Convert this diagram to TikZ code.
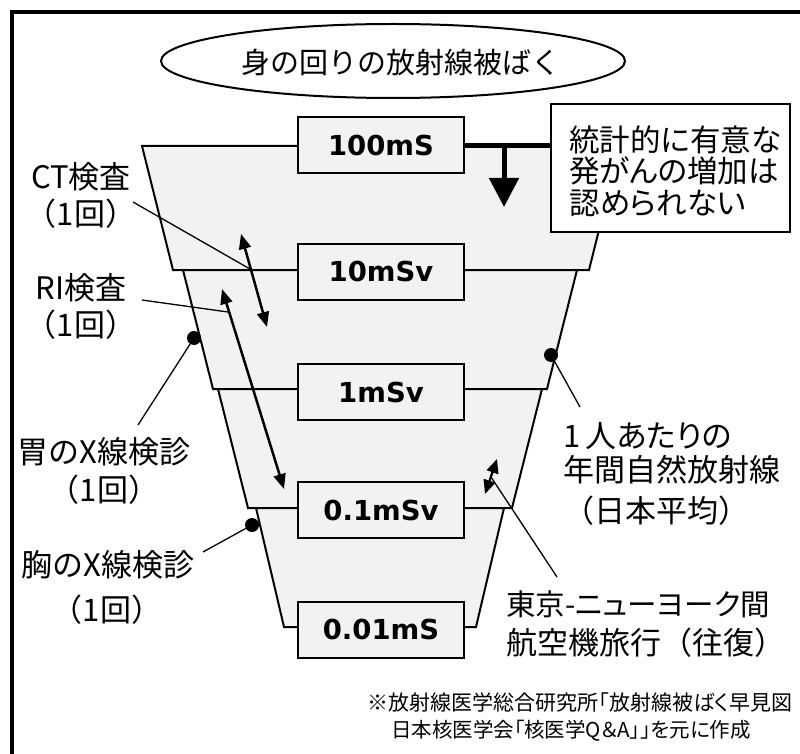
\documentclass[tikz,border=0pt]{standalone}
\usepackage{fontspec}
\setmainfont{Noto Sans CJK JP}
\newfontfamily\jpp[RawFeature=+palt]{Noto Sans CJK JP}
\newfontfamily\boxfont{DejaVu Sans}
\usetikzlibrary{shapes.geometric,arrows.meta}
\definecolor{funnelgray}{HTML}{F2F2F2}
\begin{document}
\begin{tikzpicture}[x=1pt,y=-1pt,
  trap/.style={draw, line width=2pt, fill=funnelgray, line join=miter},
  dose/.style={draw, line width=2pt, fill=funnelgray, minimum width=166pt, minimum height=56pt, inner sep=0pt, font=\boxfont\bfseries\fontsize{27.5}{27.5}\selectfont},
  lbl/.style={inner sep=0pt, font=\fontsize{31}{37}\selectfont, align=center},
  rlbl/.style={inner sep=0pt, anchor=west, font=\fontsize{31}{31}\selectfont},
  conn/.style={line width=1.3pt},
  dot/.style={circle, fill=black, inner sep=0pt, minimum size=14pt},
  dbl/.style={line width=2.5pt, {Triangle[length=15pt,width=12pt]}-{Triangle[length=15pt,width=12pt]}},
  dbls/.style={line width=2.3pt, {Triangle[length=14pt,width=12pt]}-{Triangle[length=14pt,width=12pt]}}
]
\clip (0,0) rectangle (800,754);
\fill[white] (0,0) rectangle (800,754);
% frame
\draw[line width=3.5pt, line join=miter] (12,820) -- (12,12) -- (860,12);
% title
\node[ellipse, draw, line width=2pt, minimum width=464pt, minimum height=74pt, inner sep=0pt] (title) at (393,61) {};
\node[inner sep=0pt, font=\fontsize{29}{29}\selectfont] (titletext) at (401,62) {身の回りの放射線被ばく};
% funnel
\draw[trap] (142,146) -- (620,146) -- (589,270) -- (173,270) -- cycle;
\draw[trap] (183,270) -- (577,270) -- (547,389) -- (213,389) -- cycle;
\draw[trap] (218,389) -- (542,389) -- (512,508) -- (248,508) -- cycle;
\draw[trap] (256,508) -- (504,508) -- (476,627) -- (284,627) -- cycle;
% dose boxes
\node[dose] (b100) at (381,145.5) {100mS};
\node[dose] (b10) at (381,271.5) {10mSv};
\node[dose] (b1) at (381,392) {1mSv};
\node[dose] (b01) at (381,510) {0.1mSv};
\node[dose] (b001) at (381,629.5) {0.01mS};
% text box
\node[draw, line width=1.5pt, fill=white, minimum width=239pt, minimum height=128pt, inner sep=0pt] (tbox) at (670.5,168) {};
\node[anchor=west, inner sep=0pt, align=left, font=\jpp\fontsize{30.5}{31.5}\selectfont] (ttext) at (569,171) {統計的に有意な\\発がんの増加は\\認められない};
\draw[line width=5pt] (b100.east) -- (b100.east -| tbox.west);
\coordinate (dtop) at (504,146);
\coordinate (dtip) at (504,207);
\draw[line width=5pt, -{Triangle[length=29pt,width=29pt]}] (dtop) -- (dtip);
% left labels
\node[lbl] (ct) at (81,195) {CT検査\\（1回）};
\node[lbl] (ri) at (81,306) {RI検査\\（1回）};
\node[lbl, font=\fontsize{31}{38}\selectfont] (stomach) at (104,471) {胃のX線検診\\（1回）};
\node[lbl] (chest) at (108,565) {胸のX線検診};
\node[lbl] (chest1) at (107,610) {（1回）};
% right labels
\node[rlbl, font=\jpp\fontsize{31}{31}\selectfont] (nat1) at (563,436) {1\,人あたりの};
\node[rlbl] (nat2) at (563,470) {年間自然放射線};
\node[rlbl] (nat3) at (563,511) {（日本平均）};
\node[rlbl, font=\jpp\fontsize{29.5}{29.5}\selectfont] (ny1) at (506,604) {東京-ニューヨーク間};
\node[rlbl] (ny2) at (506,643) {航空機旅行（往復）};
% footnote
\node[inner sep=0pt, font=\jpp\fontsize{21}{21}\selectfont] (fn1) at (580,702) {※放射線医学総合研究所「放射線被ばく早見図};
\node[inner sep=0pt, font=\jpp\fontsize{20.5}{20.5}\selectfont] (fn2) at (571,731) {日本核医学会「核医学Q＆A」」を元に作成};
% dots
\node[dot] (dS) at (194,338) {};
\node[dot] (dC) at (252,525) {};
\node[dot] (dN) at (551,355) {};
% connector end points
\coordinate (ctA) at (133,202);
\coordinate (ctB) at (250,269);
\coordinate (riA) at (142,300);
\coordinate (riB) at (228,312);
\coordinate (stA) at (138,425);
\coordinate (chA) at (203,552);
\coordinate (naA) at (580,407);
\coordinate (nyA) at (557,577);
\coordinate (nyB) at (491,477);
\draw[conn] (ctA) -- (ctB);
\draw[conn] (riA) -- (riB);
\draw[conn] (stA) -- (dS);
\draw[conn] (chA) -- (dC);
\draw[conn] (dN) -- (naA);
\draw[conn] (nyA) -- (nyB);
% double arrows
\coordinate (ctU) at (241,234);
\coordinate (ctD) at (267,327);
\coordinate (riU) at (222,289);
\coordinate (riD) at (284,489);
\coordinate (flU) at (497,459);
\coordinate (flD) at (485,494);
\draw[dbl] (ctU) -- (ctD);
\draw[dbl] (riU) -- (riD);
\draw[dbls] (flU) -- (flD);
\end{tikzpicture}
\end{document}
